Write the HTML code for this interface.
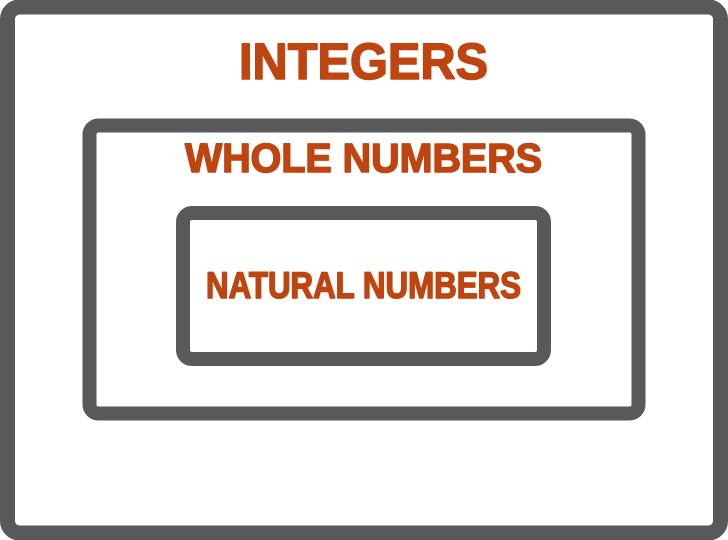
<!DOCTYPE html>
<html><head><meta charset="utf-8"><style>html,body{margin:0;padding:0;background:#fff;}svg{display:block}</style></head>
<body>
<svg width="728" height="540" viewBox="0 0 728 540">
<rect x="7.5" y="7" width="713" height="526" rx="12" fill="#fff" stroke="#595959" stroke-width="15"/>
<rect x="89.5" y="125.5" width="549" height="288" rx="9" fill="#fff" stroke="#595959" stroke-width="14"/>
<rect x="183" y="213" width="361" height="146" rx="9" fill="#fff" stroke="#595959" stroke-width="14"/>
<g font-family="'Liberation Sans', sans-serif" font-weight="bold" fill="#bf4510" stroke="#bf4510" stroke-width="1.6" stroke-linejoin="round">
<text x="239" y="79" font-size="51" textLength="249" lengthAdjust="spacingAndGlyphs">INTEGERS</text>
<text x="185" y="172" font-size="41" textLength="357" lengthAdjust="spacingAndGlyphs">WHOLE NUMBERS</text>
<text x="206" y="298" font-size="37" textLength="315" lengthAdjust="spacingAndGlyphs">NATURAL NUMBERS</text>
</g>
</svg>
</body></html>
